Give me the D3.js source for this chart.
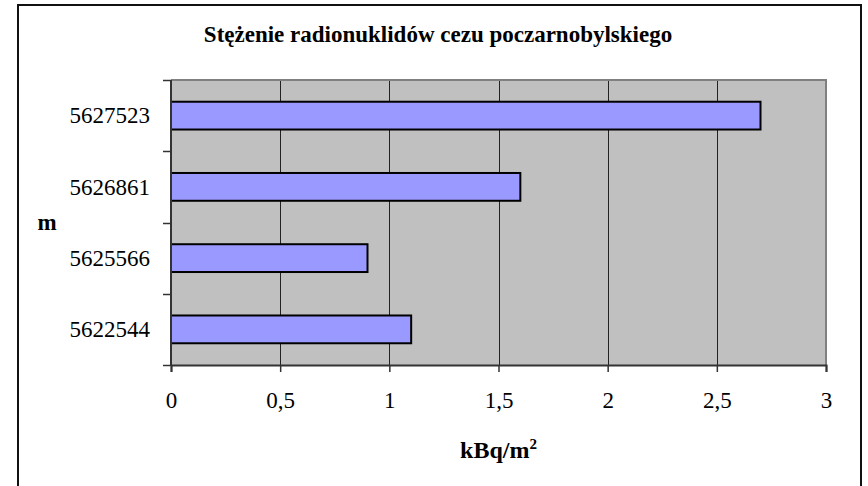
<!DOCTYPE html>
<html>
<head>
<meta charset="utf-8">
<script src="https://cdn.jsdelivr.net/npm/d3@7"></script>
<style>
  body { margin: 0; background: #fff; }
</style>
</head>
<body>
<div id="chart"></div>
<script>
// dimensions of the page
const width = 868;
const height = 486;
const serif = '"Liberation Serif", "Times New Roman", Times, serif';

// data (top to bottom)
const categories = ["5627523", "5626861", "5625566", "5622544"];
const values = [2.7, 1.6, 0.9, 1.1];
const xTicks = [0, 0.5, 1, 1.5, 2, 2.5, 3];

const chartTitle = "Stężenie radionuklidów cezu poczarnobylskiego";

// plot area
const plot = {left: 171, top: 80, right: 826, bottom: 365};

const svg = d3.select("#chart")
  .append("svg")
  .attr("width", width)
  .attr("height", height);

// outer chart frame
svg.append("rect")
  .attr("x", 18)
  .attr("y", 5)
  .attr("width", 843)
  .attr("height", 490)
  .attr("fill", "#fff")
  .attr("stroke", "#111")
  .attr("stroke-width", 2);

const x = d3.scaleLinear()
  .domain([0, 3])
  .range([plot.left, plot.right]);

const y = d3.scaleBand()
  .domain(categories)
  .range([plot.top, plot.bottom])
  .padding(0);

// gray plot background
svg.append("rect")
  .attr("x", plot.left)
  .attr("y", plot.top)
  .attr("width", plot.right - plot.left)
  .attr("height", plot.bottom - plot.top)
  .attr("fill", "#c0c0c0");

// vertical gridlines
svg.append("g")
  .selectAll("line")
  .data(xTicks.slice(1, -1))
  .enter()
  .append("line")
  .attr("x1", d => Math.round(x(d)) + 0.5)
  .attr("x2", d => Math.round(x(d)) + 0.5)
  .attr("y1", plot.top)
  .attr("y2", plot.bottom)
  .attr("stroke", "#222")
  .attr("stroke-width", 1);

// plot border (top + right in gray)
svg.append("path")
  .attr("d", `M${plot.left},${plot.top}H${plot.right}V${plot.bottom}`)
  .attr("fill", "none")
  .attr("stroke", "#808080")
  .attr("stroke-width", 2);

// bars
const barH = y.bandwidth() * 0.39;
svg.append("g")
  .selectAll("rect")
  .data(values)
  .enter()
  .append("rect")
  .attr("x", x(0))
  .attr("y", (d, i) => y(categories[i]) + (y.bandwidth() - barH) / 2)
  .attr("width", d => x(d) - x(0))
  .attr("height", barH)
  .attr("fill", "#9999ff")
  .attr("stroke", "#000")
  .attr("stroke-width", 2);

// x axis
const fmt = d => String(d).replace(".", ",");
const xAxis = svg.append("g")
  .attr("transform", `translate(0,${plot.bottom})`)
  .call(d3.axisBottom(x).tickValues(xTicks).tickFormat(fmt).tickSize(7).tickPadding(20));
xAxis.select(".domain").attr("stroke", "#333").attr("stroke-width", 2);
xAxis.selectAll(".tick line").attr("stroke", "#333").attr("stroke-width", 1.5);
xAxis.selectAll("text")
  .attr("font-family", serif)
  .attr("font-size", 23)
  .attr("fill", "#000");

// y axis: ticks at band boundaries, labels at band centers
const yAxis = svg.append("g")
  .attr("transform", `translate(${plot.left},0)`);
yAxis.append("line")
  .attr("x1", 0).attr("x2", 0)
  .attr("y1", plot.top).attr("y2", plot.bottom)
  .attr("stroke", "#333")
  .attr("stroke-width", 2);
const bounds = categories.map(c => y(c)).concat([plot.bottom]);
yAxis.selectAll(".ytick")
  .data(bounds)
  .enter()
  .append("line")
  .attr("class", "ytick")
  .attr("x1", -8).attr("x2", 0)
  .attr("y1", d => Math.round(d) + 0.5)
  .attr("y2", d => Math.round(d) + 0.5)
  .attr("stroke", "#333")
  .attr("stroke-width", 1.5);
yAxis.selectAll(".ylabel")
  .data(categories)
  .enter()
  .append("text")
  .attr("class", "ylabel")
  .attr("x", -21)
  .attr("y", d => y(d) + y.bandwidth() / 2)
  .attr("dy", "0.34em")
  .attr("text-anchor", "end")
  .attr("font-family", serif)
  .attr("font-size", 23)
  .text(d => d);

// title
svg.append("text")
  .attr("x", 438)
  .attr("y", 42)
  .attr("text-anchor", "middle")
  .attr("font-family", serif)
  .attr("font-size", 23)
  .attr("font-weight", "bold")
  .text(chartTitle);

// axis titles
svg.append("text")
  .attr("x", 47)
  .attr("y", 230)
  .attr("text-anchor", "middle")
  .attr("font-family", serif)
  .attr("font-size", 23)
  .attr("font-weight", "bold")
  .text("m");

const xTitle = svg.append("text")
  .attr("x", (plot.left + plot.right) / 2)
  .attr("y", 458)
  .attr("text-anchor", "middle")
  .attr("font-family", serif)
  .attr("font-size", 24)
  .attr("font-weight", "bold");
xTitle.append("tspan").text("kBq/m");
xTitle.append("tspan").attr("dy", -9).attr("font-size", 15).text("2");
</script>
</body>
</html>
